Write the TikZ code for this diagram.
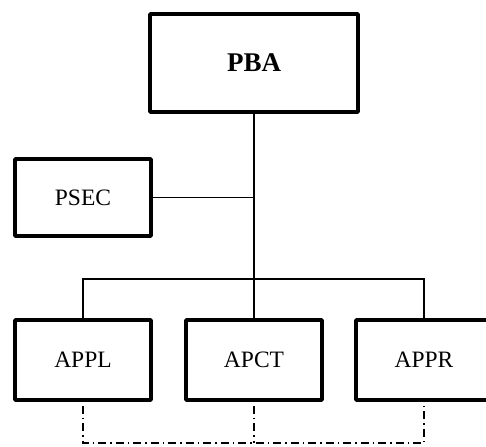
\documentclass[tikz,border=0pt]{standalone}
\usepackage{fontspec}
\setmainfont{Liberation Serif}
\begin{document}
\begin{tikzpicture}[x=1pt,y=-1pt,
  box/.style={draw, line width=3.8pt, inner sep=0pt, outer sep=0pt, rounded corners=0.8pt, font=\fontsize{23.5}{26}\selectfont},
  conn/.style={line width=1.4pt},
  dd/.style={line width=1.4pt, dash pattern=on 1.5pt off 4pt on 8pt off 4pt}]
\useasboundingbox (0,0) rectangle (486,446);
\clip (0,0) rectangle (486,446);
\node[box, minimum width=208pt, minimum height=98pt, font=\fontsize{27}{30}\selectfont\bfseries] (pba) at (254,63) {PBA};
\node[box, minimum width=136pt, minimum height=77pt] (psec) at (83,197.5) {PSEC};
\node[box, minimum width=136pt, minimum height=80pt] (appl) at (83,360) {APPL};
\node[box, minimum width=136pt, minimum height=80pt] (apct) at (254,360) {APCT};
\node[box, minimum width=136pt, minimum height=80pt] (appr) at (424,360) {APPR};
\coordinate (bus) at (254,279);
\coordinate (dbus) at (254,443);
\draw[conn] (pba.south) -- (apct.north);
\draw[conn] (psec.east) -- (psec.east -| pba.south);
\draw[conn] (appl.north) |- (bus) -| (appr.north);
\draw[dd] (appl.south) |- (dbus) -| (appr.south);
\draw[dd] (apct.south) -- (dbus);
\end{tikzpicture}
\end{document}
